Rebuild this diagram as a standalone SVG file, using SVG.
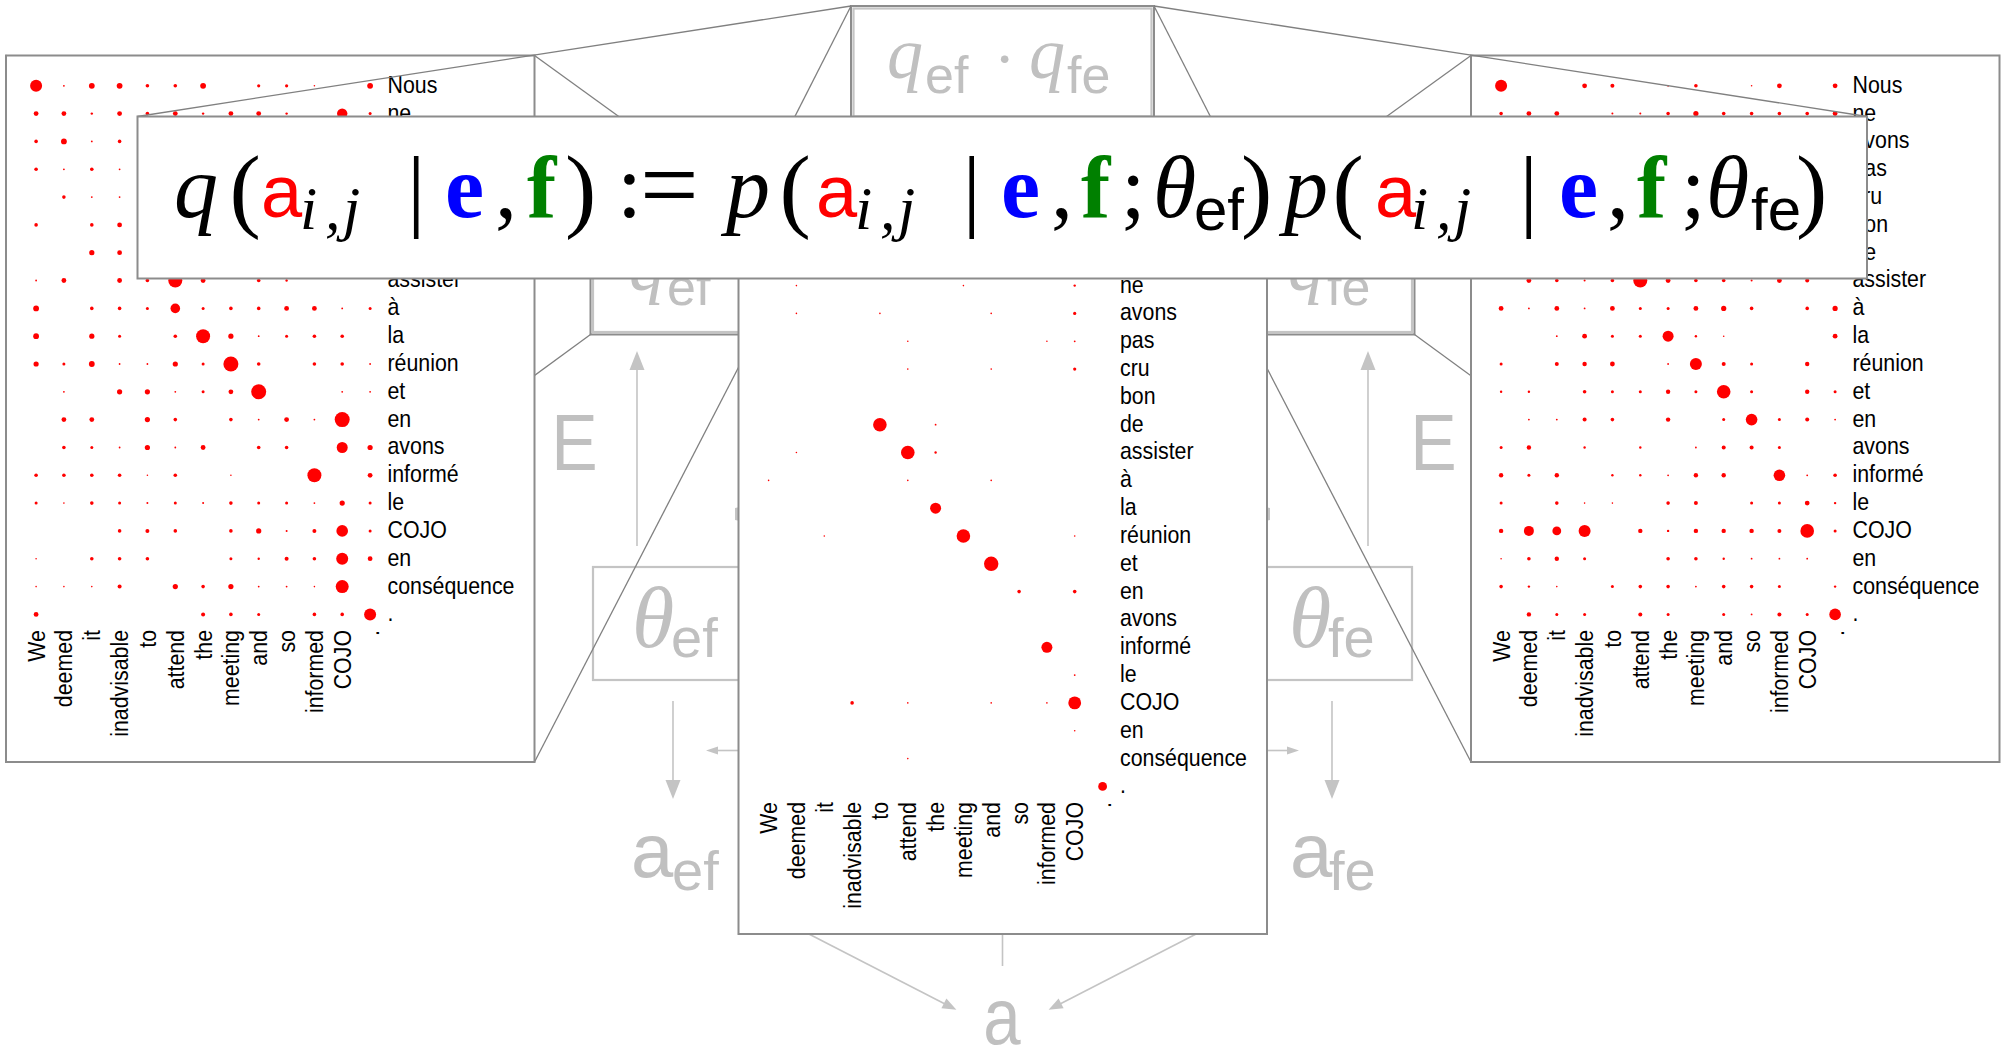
<svg xmlns="http://www.w3.org/2000/svg" xmlns:xlink="http://www.w3.org/1999/xlink" width="2001" height="1047" viewBox="0 0 2001 1047">
<defs>
<style>
.bg{fill:#fff}
.d circle{fill:#f00}
.lbl{font-family:"Liberation Sans",Arial,sans-serif;font-size:24px;fill:#000}
.pn{fill:#fff;stroke:#8c8c8c;stroke-width:2}
.gbox{fill:none;stroke:#c4c4c4;stroke-width:2.2}
.frame{fill:none;stroke:#8c8c8c;stroke-width:2}
.zl{fill:none;stroke:#808080;stroke-width:1.3}
.gl{fill:none;stroke:#c4c4c4;stroke-width:1.6}
.gh{fill:#c4c4c4}
.gt{fill:#c0c0c0}
.it{font-family:"Liberation Serif","DejaVu Serif",serif;font-style:italic}
.rm{font-family:"Liberation Serif","DejaVu Serif",serif;font-style:normal}
.bf{font-family:"Liberation Serif","DejaVu Serif",serif;font-weight:bold;font-style:normal}
.sf{font-family:"Liberation Sans",Arial,sans-serif;font-style:normal}
.fbox{fill:#fff;stroke:#8c8c8c;stroke-width:2}
</style>
<g id="labels" class="lbl">
<g transform="translate(387.5 0) scale(0.89 1)">
<text y="92.8">Nous</text><text y="120.6">ne</text><text y="148.4">avons</text><text y="176.3">pas</text><text y="204.1">cru</text><text y="231.9">bon</text><text y="259.7">de</text><text y="287.5">assister</text><text y="315.4">à</text><text y="343.2">la</text><text y="371">réunion</text><text y="398.8">et</text><text y="426.6">en</text><text y="454.5">avons</text><text y="482.3">informé</text><text y="510.1">le</text><text y="537.9">COJO</text><text y="565.7">en</text><text y="593.6">conséquence</text><text y="621.4">.</text>
</g>
<g text-anchor="end">
<text transform="translate(44.6 630) rotate(-90) scale(0.89 1)">We</text>
<text transform="translate(72.4 630) rotate(-90) scale(0.89 1)">deemed</text>
<text transform="translate(100.3 630) rotate(-90) scale(0.89 1)">it</text>
<text transform="translate(128.1 630) rotate(-90) scale(0.89 1)">inadvisable</text>
<text transform="translate(155.9 630) rotate(-90) scale(0.89 1)">to</text>
<text transform="translate(183.8 630) rotate(-90) scale(0.89 1)">attend</text>
<text transform="translate(211.6 630) rotate(-90) scale(0.89 1)">the</text>
<text transform="translate(239.4 630) rotate(-90) scale(0.89 1)">meeting</text>
<text transform="translate(267.2 630) rotate(-90) scale(0.89 1)">and</text>
<text transform="translate(295.1 630) rotate(-90) scale(0.89 1)">so</text>
<text transform="translate(322.9 630) rotate(-90) scale(0.89 1)">informed</text>
<text transform="translate(350.7 630) rotate(-90) scale(0.89 1)">COJO</text>
<text transform="translate(378.6 630) rotate(-90) scale(0.89 1)">.</text>
</g>
</g>
</defs>
<rect class="bg" x="0" y="0" width="2001" height="1047"/>

<g id="graph">
<g id="node-qq">
<rect class="gbox" x="853.5" y="8.5" width="298" height="108"/>
<text class="gt"><tspan class="it" x="887" y="78" font-size="72">q</tspan><tspan class="sf" x="925" y="93" font-size="52">ef</tspan><tspan class="rm" x="994" y="80" font-size="64">·</tspan><tspan class="it" x="1029" y="78" font-size="72">q</tspan><tspan class="sf" x="1067" y="93" font-size="52">fe</tspan></text>
</g>
<g id="node-qef">
<rect class="gbox" x="593" y="218" width="160" height="114"/>
<text class="gt"><tspan class="it" x="629" y="290" font-size="72">q</tspan><tspan class="sf" x="667" y="305" font-size="52">ef</tspan></text>
</g>
<g id="node-qfe">
<rect class="gbox" x="1252" y="218" width="160" height="114"/>
<text class="gt"><tspan class="it" x="1288" y="290" font-size="72">q</tspan><tspan class="sf" x="1327" y="305" font-size="52">fe</tspan></text>
</g>
<g id="node-thetaef">
<rect class="gbox" x="593" y="567" width="160" height="113"/>
<text class="gt"><tspan class="it" x="632" y="647" font-size="86">θ</tspan><tspan class="sf" x="671" y="657" font-size="56">ef</tspan></text>
</g>
<g id="node-thetafe">
<rect class="gbox" x="1252" y="567" width="160" height="113"/>
<text class="gt"><tspan class="it" x="1289" y="647" font-size="86">θ</tspan><tspan class="sf" x="1328" y="657" font-size="56">fe</tspan></text>
</g>
<g id="node-Eef"><text class="gt sf" transform="translate(574.5 470) scale(0.87 1)" font-size="80" text-anchor="middle">E</text></g>
<g id="node-Efe"><text class="gt sf" transform="translate(1433.5 470) scale(0.87 1)" font-size="80" text-anchor="middle">E</text></g>
<g id="node-aef">
<text class="gt sf"><tspan x="631" y="877" font-size="76">a</tspan><tspan x="672" y="890" font-size="56">ef</tspan></text>
</g>
<g id="node-afe">
<text class="gt sf"><tspan x="1290" y="877" font-size="76">a</tspan><tspan x="1329" y="890" font-size="56">fe</tspan></text>
</g>
<g id="node-a"><text class="gt sf" transform="translate(1002 1044) scale(0.84 1)" font-size="80" text-anchor="middle">a</text></g>
<g id="graph-edges">
<line class="gl" x1="637" y1="546" x2="637" y2="368"/><polygon class="gh" points="637,351 629.5,370 644.5,370"/>
<line class="gl" x1="1368" y1="546" x2="1368" y2="368"/><polygon class="gh" points="1368,351 1360.5,370 1375.5,370"/>
<line class="gl" x1="673" y1="701" x2="673" y2="782"/><polygon class="gh" points="673,799 665.5,780 680.5,780"/>
<line class="gl" x1="1332" y1="701" x2="1332" y2="782"/><polygon class="gh" points="1332,799 1324.5,780 1339.5,780"/>
<line class="gl" x1="745" y1="750.5" x2="715" y2="750.5"/><polygon class="gh" points="706,750.5 718,746.5 718,754.5"/>
<line class="gl" x1="1260" y1="750.5" x2="1290" y2="750.5"/><polygon class="gh" points="1299,750.5 1287,746.5 1287,754.5"/>
<polygon class="gh" points="735,508 745,506 745,522 735,520"/>
<polygon class="gh" points="1270,508 1260,506 1260,522 1270,520"/>
<line class="gl" x1="770" y1="914" x2="945" y2="1004"/><polygon class="gh" points="956.4,1009.8 946.4,998.5 941.4,1008.3"/>
<line class="gl" x1="1235" y1="914" x2="1060" y2="1004"/><polygon class="gh" points="1048.6,1009.8 1058.6,998.5 1063.6,1008.3"/>
<line class="gl" x1="1002.5" y1="900" x2="1002.5" y2="966"/>
</g>
</g>

<g id="zoom-frames">
<rect class="frame" x="851" y="6" width="303" height="113"/>
<rect class="frame" x="590.5" y="215.5" width="165" height="119"/>
<rect class="frame" x="1249.5" y="215.5" width="165" height="119"/>
</g>

<g id="connectors">
<line class="zl" x1="755.5" y1="215.5" x2="534.5" y2="55.5"/>
<line class="zl" x1="590.5" y1="215.5" x2="6" y2="55.5"/>
<line class="zl" x1="590.5" y1="334.5" x2="6" y2="762"/>
<line class="zl" x1="755.5" y1="334.5" x2="534.5" y2="762"/>
<line class="zl" x1="1249.5" y1="215.5" x2="1471" y2="55.5"/>
<line class="zl" x1="1414.5" y1="215.5" x2="1999.5" y2="55.5"/>
<line class="zl" x1="1414.5" y1="334.5" x2="1999.5" y2="762"/>
<line class="zl" x1="1249.5" y1="334.5" x2="1471" y2="762"/>
<line class="zl" x1="851" y1="6" x2="738.5" y2="227.5"/>
<line class="zl" x1="1154" y1="6" x2="1267" y2="227.5"/>
<line class="zl" x1="851" y1="119" x2="738.5" y2="934"/>
<line class="zl" x1="1154" y1="119" x2="1267" y2="934"/>
</g>

<g id="panel-left">
<rect class="pn" x="6" y="55.5" width="528.5" height="706.5"/>
<g class="d">
<circle cx="36.1" cy="85.8" r="6"/><circle cx="63.9" cy="85.8" r="0.9"/><circle cx="91.8" cy="85.8" r="2.9"/><circle cx="119.6" cy="85.8" r="2.9"/><circle cx="147.4" cy="85.8" r="1.8"/><circle cx="175.3" cy="85.8" r="1.8"/><circle cx="203.1" cy="85.8" r="2.9"/><circle cx="258.7" cy="85.8" r="1.6"/><circle cx="286.6" cy="85.8" r="1.6"/><circle cx="314.4" cy="85.8" r="0.8"/><circle cx="370.1" cy="85.8" r="2.9"/>
<circle cx="36.1" cy="113.6" r="2.4"/><circle cx="63.9" cy="113.6" r="2.4"/><circle cx="91.8" cy="113.6" r="1.2"/><circle cx="119.6" cy="113.6" r="2.4"/><circle cx="147.4" cy="113.6" r="1.8"/><circle cx="175.3" cy="113.6" r="2.4"/><circle cx="203.1" cy="113.6" r="1.2"/><circle cx="230.9" cy="113.6" r="2.4"/><circle cx="258.7" cy="113.6" r="2.4"/><circle cx="286.6" cy="113.6" r="1.2"/><circle cx="342.2" cy="113.6" r="5.2"/><circle cx="370.1" cy="113.6" r="1.5"/>
<circle cx="36.1" cy="141.4" r="1.8"/><circle cx="63.9" cy="141.4" r="2.9"/><circle cx="91.8" cy="141.4" r="0.9"/><circle cx="119.6" cy="141.4" r="1.8"/>
<circle cx="36.1" cy="169.3" r="1.8"/><circle cx="63.9" cy="169.3" r="0.9"/><circle cx="91.8" cy="169.3" r="1.8"/><circle cx="119.6" cy="169.3" r="0.9"/>
<circle cx="63.9" cy="197.1" r="1.8"/><circle cx="91.8" cy="197.1" r="0.9"/><circle cx="119.6" cy="197.1" r="0.9"/>
<circle cx="36.1" cy="224.9" r="1.8"/><circle cx="91.8" cy="224.9" r="1.8"/><circle cx="119.6" cy="224.9" r="2.4"/>
<circle cx="91.8" cy="252.7" r="2.6"/><circle cx="119.6" cy="252.7" r="2.4"/>
<circle cx="36.1" cy="280.5" r="0.9"/><circle cx="63.9" cy="280.5" r="2.4"/><circle cx="119.6" cy="280.5" r="2.4"/><circle cx="147.4" cy="280.5" r="1.8"/><circle cx="175.3" cy="280.5" r="7"/><circle cx="203.1" cy="280.5" r="2.4"/><circle cx="258.7" cy="280.5" r="1.8"/><circle cx="286.6" cy="280.5" r="1.2"/>
<circle cx="36.1" cy="308.4" r="2.9"/><circle cx="91.8" cy="308.4" r="1.8"/><circle cx="119.6" cy="308.4" r="1.8"/><circle cx="147.4" cy="308.4" r="1.5"/><circle cx="175.3" cy="308.4" r="4.8"/><circle cx="203.1" cy="308.4" r="1.5"/><circle cx="230.9" cy="308.4" r="1.8"/><circle cx="258.7" cy="308.4" r="1.8"/><circle cx="286.6" cy="308.4" r="2.4"/><circle cx="314.4" cy="308.4" r="2.4"/><circle cx="342.2" cy="308.4" r="0.9"/><circle cx="370.1" cy="308.4" r="1.5"/>
<circle cx="36.1" cy="336.2" r="2.9"/><circle cx="91.8" cy="336.2" r="2.6"/><circle cx="119.6" cy="336.2" r="1.5"/><circle cx="175.3" cy="336.2" r="1.8"/><circle cx="203.1" cy="336.2" r="7"/><circle cx="230.9" cy="336.2" r="2.6"/><circle cx="258.7" cy="336.2" r="0.9"/><circle cx="286.6" cy="336.2" r="1.5"/><circle cx="314.4" cy="336.2" r="1.8"/><circle cx="342.2" cy="336.2" r="1.8"/>
<circle cx="36.1" cy="364" r="2.6"/><circle cx="63.9" cy="364" r="1.5"/><circle cx="91.8" cy="364" r="2.9"/><circle cx="119.6" cy="364" r="0.9"/><circle cx="147.4" cy="364" r="0.9"/><circle cx="175.3" cy="364" r="2.6"/><circle cx="203.1" cy="364" r="1.5"/><circle cx="230.9" cy="364" r="7.5"/><circle cx="258.7" cy="364" r="1.8"/><circle cx="314.4" cy="364" r="1.8"/><circle cx="342.2" cy="364" r="1.8"/><circle cx="370.1" cy="364" r="0.9"/>
<circle cx="63.9" cy="391.8" r="0.9"/><circle cx="119.6" cy="391.8" r="2.6"/><circle cx="147.4" cy="391.8" r="2.6"/><circle cx="175.3" cy="391.8" r="0.9"/><circle cx="203.1" cy="391.8" r="1.5"/><circle cx="230.9" cy="391.8" r="2.4"/><circle cx="258.7" cy="391.8" r="7.5"/><circle cx="342.2" cy="391.8" r="0.9"/><circle cx="370.1" cy="391.8" r="0.9"/>
<circle cx="63.9" cy="419.6" r="2.4"/><circle cx="91.8" cy="419.6" r="2.4"/><circle cx="147.4" cy="419.6" r="2.6"/><circle cx="175.3" cy="419.6" r="1.8"/><circle cx="230.9" cy="419.6" r="1.8"/><circle cx="258.7" cy="419.6" r="0.9"/><circle cx="286.6" cy="419.6" r="2.4"/><circle cx="314.4" cy="419.6" r="0.9"/><circle cx="342.2" cy="419.6" r="7.5"/>
<circle cx="63.9" cy="447.5" r="1.8"/><circle cx="91.8" cy="447.5" r="1.5"/><circle cx="119.6" cy="447.5" r="0.9"/><circle cx="147.4" cy="447.5" r="2.6"/><circle cx="175.3" cy="447.5" r="0.9"/><circle cx="203.1" cy="447.5" r="2.4"/><circle cx="258.7" cy="447.5" r="1.8"/><circle cx="286.6" cy="447.5" r="1.8"/><circle cx="342.2" cy="447.5" r="5.5"/><circle cx="370.1" cy="447.5" r="2.6"/>
<circle cx="36.1" cy="475.3" r="1.8"/><circle cx="63.9" cy="475.3" r="1.8"/><circle cx="91.8" cy="475.3" r="1.8"/><circle cx="119.6" cy="475.3" r="1.8"/><circle cx="147.4" cy="475.3" r="0.8"/><circle cx="175.3" cy="475.3" r="1.8"/><circle cx="230.9" cy="475.3" r="0.8"/><circle cx="314.4" cy="475.3" r="7"/><circle cx="370.1" cy="475.3" r="2.4"/>
<circle cx="36.1" cy="503.1" r="1.5"/><circle cx="63.9" cy="503.1" r="0.8"/><circle cx="91.8" cy="503.1" r="1.8"/><circle cx="119.6" cy="503.1" r="1.5"/><circle cx="147.4" cy="503.1" r="1"/><circle cx="175.3" cy="503.1" r="1.5"/><circle cx="203.1" cy="503.1" r="1"/><circle cx="230.9" cy="503.1" r="1.8"/><circle cx="258.7" cy="503.1" r="1.5"/><circle cx="286.6" cy="503.1" r="1.5"/><circle cx="314.4" cy="503.1" r="0.9"/><circle cx="342.2" cy="503.1" r="2.6"/><circle cx="370.1" cy="503.1" r="1.5"/>
<circle cx="119.6" cy="530.9" r="1.8"/><circle cx="147.4" cy="530.9" r="2"/><circle cx="175.3" cy="530.9" r="1.8"/><circle cx="230.9" cy="530.9" r="1.8"/><circle cx="258.7" cy="530.9" r="2.6"/><circle cx="286.6" cy="530.9" r="1"/><circle cx="314.4" cy="530.9" r="2"/><circle cx="342.2" cy="530.9" r="5.8"/><circle cx="370.1" cy="530.9" r="1.5"/>
<circle cx="36.1" cy="558.7" r="0.8"/><circle cx="91.8" cy="558.7" r="1.8"/><circle cx="119.6" cy="558.7" r="1.8"/><circle cx="147.4" cy="558.7" r="1.8"/><circle cx="230.9" cy="558.7" r="1.5"/><circle cx="258.7" cy="558.7" r="1.2"/><circle cx="286.6" cy="558.7" r="2"/><circle cx="314.4" cy="558.7" r="1.8"/><circle cx="342.2" cy="558.7" r="6"/><circle cx="370.1" cy="558.7" r="2.4"/>
<circle cx="36.1" cy="586.6" r="0.8"/><circle cx="63.9" cy="586.6" r="0.8"/><circle cx="91.8" cy="586.6" r="0.8"/><circle cx="119.6" cy="586.6" r="2"/><circle cx="175.3" cy="586.6" r="2.6"/><circle cx="203.1" cy="586.6" r="1.8"/><circle cx="230.9" cy="586.6" r="2.6"/><circle cx="258.7" cy="586.6" r="0.9"/><circle cx="286.6" cy="586.6" r="0.9"/><circle cx="314.4" cy="586.6" r="0.8"/><circle cx="342.2" cy="586.6" r="6.5"/>
<circle cx="36.1" cy="614.4" r="2.4"/><circle cx="203.1" cy="614.4" r="2"/><circle cx="230.9" cy="614.4" r="1.8"/><circle cx="258.7" cy="614.4" r="1.5"/><circle cx="314.4" cy="614.4" r="1.8"/><circle cx="342.2" cy="614.4" r="1.8"/><circle cx="370.1" cy="614.4" r="6"/>
</g>
<use xlink:href="#labels" href="#labels"/>
</g>

<g id="panel-right" transform="translate(1465 0)">
<rect class="pn" x="6" y="55.5" width="528.5" height="706.5"/>
<g class="d">
<circle cx="36.1" cy="85.8" r="6"/><circle cx="119.6" cy="85.8" r="2.4"/><circle cx="147.4" cy="85.8" r="2"/><circle cx="203.1" cy="85.8" r="0.9"/><circle cx="230.9" cy="85.8" r="1.8"/><circle cx="286.6" cy="85.8" r="0.8"/><circle cx="314.4" cy="85.8" r="2.4"/><circle cx="370.1" cy="85.8" r="2.4"/>
<circle cx="36.1" cy="113.6" r="1.8"/><circle cx="63.9" cy="113.6" r="2.4"/><circle cx="91.8" cy="113.6" r="2.4"/><circle cx="147.4" cy="113.6" r="1"/><circle cx="175.3" cy="113.6" r="1"/><circle cx="203.1" cy="113.6" r="1.8"/><circle cx="230.9" cy="113.6" r="2.6"/><circle cx="258.7" cy="113.6" r="1.8"/><circle cx="286.6" cy="113.6" r="1.8"/><circle cx="314.4" cy="113.6" r="1.8"/><circle cx="342.2" cy="113.6" r="1.8"/><circle cx="370.1" cy="113.6" r="2.4"/>
<circle cx="63.9" cy="280.5" r="2.4"/><circle cx="91.8" cy="280.5" r="1.8"/><circle cx="119.6" cy="280.5" r="1"/><circle cx="147.4" cy="280.5" r="1.8"/><circle cx="175.3" cy="280.5" r="7"/><circle cx="203.1" cy="280.5" r="2.4"/><circle cx="230.9" cy="280.5" r="1.8"/><circle cx="258.7" cy="280.5" r="1.8"/><circle cx="286.6" cy="280.5" r="1"/><circle cx="314.4" cy="280.5" r="2.4"/><circle cx="342.2" cy="280.5" r="2"/>
<circle cx="36.1" cy="308.4" r="2.4"/><circle cx="63.9" cy="308.4" r="0.9"/><circle cx="91.8" cy="308.4" r="2.4"/><circle cx="119.6" cy="308.4" r="0.9"/><circle cx="147.4" cy="308.4" r="2.4"/><circle cx="175.3" cy="308.4" r="1.5"/><circle cx="203.1" cy="308.4" r="1.5"/><circle cx="230.9" cy="308.4" r="2.4"/><circle cx="258.7" cy="308.4" r="2.6"/><circle cx="286.6" cy="308.4" r="1.8"/><circle cx="342.2" cy="308.4" r="1.8"/><circle cx="370.1" cy="308.4" r="2.6"/>
<circle cx="91.8" cy="336.2" r="0.9"/><circle cx="119.6" cy="336.2" r="2.4"/><circle cx="147.4" cy="336.2" r="1.5"/><circle cx="175.3" cy="336.2" r="1.5"/><circle cx="203.1" cy="336.2" r="5.5"/><circle cx="230.9" cy="336.2" r="1.2"/><circle cx="258.7" cy="336.2" r="0.8"/><circle cx="370.1" cy="336.2" r="2.4"/>
<circle cx="36.1" cy="364" r="1.5"/><circle cx="91.8" cy="364" r="2"/><circle cx="119.6" cy="364" r="2.2"/><circle cx="147.4" cy="364" r="2.4"/><circle cx="203.1" cy="364" r="0.9"/><circle cx="230.9" cy="364" r="6"/><circle cx="258.7" cy="364" r="2"/><circle cx="286.6" cy="364" r="1.5"/><circle cx="342.2" cy="364" r="2.2"/>
<circle cx="36.1" cy="391.8" r="1.2"/><circle cx="63.9" cy="391.8" r="1.2"/><circle cx="119.6" cy="391.8" r="1.8"/><circle cx="147.4" cy="391.8" r="1.5"/><circle cx="175.3" cy="391.8" r="1.5"/><circle cx="203.1" cy="391.8" r="2.2"/><circle cx="230.9" cy="391.8" r="1.5"/><circle cx="258.7" cy="391.8" r="6.8"/><circle cx="286.6" cy="391.8" r="1.5"/><circle cx="342.2" cy="391.8" r="2.2"/><circle cx="370.1" cy="391.8" r="1.5"/>
<circle cx="63.9" cy="419.6" r="0.9"/><circle cx="91.8" cy="419.6" r="0.9"/><circle cx="119.6" cy="419.6" r="2"/><circle cx="147.4" cy="419.6" r="1.8"/><circle cx="203.1" cy="419.6" r="2.2"/><circle cx="258.7" cy="419.6" r="1.5"/><circle cx="286.6" cy="419.6" r="5.8"/><circle cx="314.4" cy="419.6" r="1.5"/><circle cx="342.2" cy="419.6" r="2"/><circle cx="370.1" cy="419.6" r="0.9"/>
<circle cx="36.1" cy="447.5" r="1.5"/><circle cx="63.9" cy="447.5" r="2.2"/><circle cx="119.6" cy="447.5" r="1.2"/><circle cx="175.3" cy="447.5" r="1.2"/><circle cx="230.9" cy="447.5" r="0.9"/><circle cx="258.7" cy="447.5" r="2"/><circle cx="286.6" cy="447.5" r="2"/><circle cx="314.4" cy="447.5" r="1.5"/>
<circle cx="36.1" cy="475.3" r="2.2"/><circle cx="63.9" cy="475.3" r="1.5"/><circle cx="91.8" cy="475.3" r="2.2"/><circle cx="147.4" cy="475.3" r="1.2"/><circle cx="175.3" cy="475.3" r="1.2"/><circle cx="203.1" cy="475.3" r="0.9"/><circle cx="230.9" cy="475.3" r="2.2"/><circle cx="258.7" cy="475.3" r="2.2"/><circle cx="314.4" cy="475.3" r="5.8"/><circle cx="342.2" cy="475.3" r="0.9"/><circle cx="370.1" cy="475.3" r="1.8"/>
<circle cx="36.1" cy="503.1" r="1.5"/><circle cx="91.8" cy="503.1" r="1.8"/><circle cx="119.6" cy="503.1" r="0.8"/><circle cx="147.4" cy="503.1" r="0.8"/><circle cx="203.1" cy="503.1" r="1.8"/><circle cx="230.9" cy="503.1" r="2"/><circle cx="286.6" cy="503.1" r="1.5"/><circle cx="314.4" cy="503.1" r="1.5"/><circle cx="342.2" cy="503.1" r="2.4"/><circle cx="370.1" cy="503.1" r="1.2"/>
<circle cx="36.1" cy="530.9" r="2.2"/><circle cx="63.9" cy="530.9" r="5"/><circle cx="91.8" cy="530.9" r="4.4"/><circle cx="119.6" cy="530.9" r="6"/><circle cx="175.3" cy="530.9" r="2.2"/><circle cx="203.1" cy="530.9" r="1.2"/><circle cx="230.9" cy="530.9" r="2.2"/><circle cx="258.7" cy="530.9" r="2.2"/><circle cx="286.6" cy="530.9" r="2.2"/><circle cx="314.4" cy="530.9" r="2"/><circle cx="342.2" cy="530.9" r="6.8"/><circle cx="370.1" cy="530.9" r="1.5"/>
<circle cx="36.1" cy="558.7" r="0.8"/><circle cx="63.9" cy="558.7" r="1.8"/><circle cx="91.8" cy="558.7" r="2.2"/><circle cx="119.6" cy="558.7" r="1.5"/><circle cx="203.1" cy="558.7" r="1.8"/><circle cx="230.9" cy="558.7" r="1.8"/><circle cx="258.7" cy="558.7" r="1.2"/><circle cx="286.6" cy="558.7" r="0.9"/><circle cx="314.4" cy="558.7" r="0.9"/><circle cx="342.2" cy="558.7" r="0.9"/>
<circle cx="36.1" cy="586.6" r="1.8"/><circle cx="63.9" cy="586.6" r="1.2"/><circle cx="91.8" cy="586.6" r="0.8"/><circle cx="147.4" cy="586.6" r="1.5"/><circle cx="175.3" cy="586.6" r="1.8"/><circle cx="203.1" cy="586.6" r="1.8"/><circle cx="230.9" cy="586.6" r="0.9"/><circle cx="258.7" cy="586.6" r="1.8"/><circle cx="286.6" cy="586.6" r="1.8"/><circle cx="314.4" cy="586.6" r="1.5"/><circle cx="370.1" cy="586.6" r="1.2"/>
<circle cx="63.9" cy="614.4" r="2.2"/><circle cx="91.8" cy="614.4" r="1.5"/><circle cx="119.6" cy="614.4" r="1.5"/><circle cx="175.3" cy="614.4" r="2"/><circle cx="203.1" cy="614.4" r="1.5"/><circle cx="258.7" cy="614.4" r="1.5"/><circle cx="286.6" cy="614.4" r="0.9"/><circle cx="314.4" cy="614.4" r="2"/><circle cx="342.2" cy="614.4" r="1.5"/><circle cx="370.1" cy="614.4" r="5.8"/>
</g>
<use xlink:href="#labels" href="#labels"/>
</g>

<g id="panel-center" transform="translate(732.5 172)">
<rect class="pn" x="6" y="55.5" width="528.5" height="706.5"/>
<g class="d">
<circle cx="63.9" cy="113.6" r="0.8"/><circle cx="230.9" cy="113.6" r="0.8"/><circle cx="342.2" cy="113.6" r="1.2"/>
<circle cx="63.9" cy="141.4" r="0.8"/><circle cx="147.4" cy="141.4" r="0.8"/><circle cx="258.7" cy="141.4" r="0.8"/><circle cx="342.2" cy="141.4" r="1.6"/>
<circle cx="175.3" cy="169.3" r="0.8"/><circle cx="314.4" cy="169.3" r="0.8"/><circle cx="342.2" cy="169.3" r="0.9"/>
<circle cx="175.3" cy="197.1" r="0.8"/><circle cx="258.7" cy="197.1" r="0.8"/><circle cx="342.2" cy="197.1" r="1.6"/>
<circle cx="147.4" cy="252.7" r="6.8"/><circle cx="203.1" cy="252.7" r="0.9"/>
<circle cx="63.9" cy="280.5" r="0.8"/><circle cx="175.3" cy="280.5" r="6.8"/><circle cx="203.1" cy="280.5" r="1.2"/>
<circle cx="36.1" cy="308.4" r="0.8"/><circle cx="175.3" cy="308.4" r="0.8"/><circle cx="258.7" cy="308.4" r="0.8"/>
<circle cx="203.1" cy="336.2" r="5.5"/>
<circle cx="91.8" cy="364" r="0.8"/><circle cx="230.9" cy="364" r="6.8"/><circle cx="342.2" cy="364" r="0.8"/>
<circle cx="258.7" cy="391.8" r="7.2"/>
<circle cx="286.6" cy="419.6" r="1.8"/><circle cx="342.2" cy="419.6" r="1.8"/>
<circle cx="314.4" cy="475.3" r="5.5"/>
<circle cx="342.2" cy="503.1" r="0.9"/>
<circle cx="119.6" cy="530.9" r="1.8"/><circle cx="175.3" cy="530.9" r="0.8"/><circle cx="258.7" cy="530.9" r="0.8"/><circle cx="314.4" cy="530.9" r="0.8"/><circle cx="342.2" cy="530.9" r="6.4"/>
<circle cx="342.2" cy="558.7" r="0.8"/>
<circle cx="175.3" cy="586.6" r="0.8"/>
<circle cx="370.1" cy="614.4" r="4.4"/>
</g>
<use xlink:href="#labels" href="#labels"/>
</g>

<g id="connectors-formula">
<line class="zl" x1="851" y1="6" x2="137.5" y2="116.5"/>
<line class="zl" x1="1154" y1="6" x2="1867" y2="116.5"/>
</g>

<g id="formula">
<rect class="fbox" x="137.5" y="116.5" width="1729.5" height="162"/>
<text fill="#000"><tspan class="it" x="174" y="217" font-size="88">q</tspan><tspan class="rm" x="229.5" y="220" font-size="94">(</tspan><tspan class="sf" x="261" y="217" font-size="74" fill="#f00">a</tspan><tspan class="it" x="300" y="229" font-size="62">i</tspan><tspan class="it" x="325" y="229" font-size="62">,</tspan><tspan class="it" x="343" y="229" font-size="62">j</tspan><tspan class="rm" x="407" y="220" font-size="92">|</tspan><tspan class="bf" x="445" y="217" font-size="88" fill="#00f">e</tspan><tspan class="rm" x="495" y="217" font-size="88">,</tspan><tspan class="bf" x="527" y="217" font-size="88" fill="#008000">f</tspan><tspan class="rm" x="565" y="220" font-size="94">)</tspan><tspan class="rm" x="617" y="217" font-size="90">:</tspan><tspan class="rm" x="640" y="220" font-size="104">=</tspan><tspan class="it" x="726" y="217" font-size="88">p</tspan><tspan class="rm" x="779.5" y="220" font-size="94">(</tspan><tspan class="sf" x="816" y="217" font-size="74" fill="#f00">a</tspan><tspan class="it" x="855" y="229" font-size="62">i</tspan><tspan class="it" x="880" y="229" font-size="62">,</tspan><tspan class="it" x="898" y="229" font-size="62">j</tspan><tspan class="rm" x="962.5" y="220" font-size="92">|</tspan><tspan class="bf" x="1001" y="217" font-size="88" fill="#00f">e</tspan><tspan class="rm" x="1051" y="217" font-size="88">,</tspan><tspan class="bf" x="1081" y="217" font-size="88" fill="#008000">f</tspan><tspan class="rm" x="1121" y="217" font-size="88">;</tspan><tspan class="it" x="1153" y="217" font-size="88">θ</tspan><tspan class="sf" x="1194" y="230" font-size="60">ef</tspan><tspan class="rm" x="1241" y="220" font-size="94">)</tspan><tspan class="it" x="1284" y="217" font-size="88">p</tspan><tspan class="rm" x="1332.5" y="220" font-size="94">(</tspan><tspan class="sf" x="1375" y="217" font-size="74" fill="#f00">a</tspan><tspan class="it" x="1411" y="229" font-size="62">i</tspan><tspan class="it" x="1436" y="229" font-size="62">,</tspan><tspan class="it" x="1454" y="229" font-size="62">j</tspan><tspan class="rm" x="1519.5" y="220" font-size="92">|</tspan><tspan class="bf" x="1559" y="217" font-size="88" fill="#00f">e</tspan><tspan class="rm" x="1607" y="217" font-size="88">,</tspan><tspan class="bf" x="1637" y="217" font-size="88" fill="#008000">f</tspan><tspan class="rm" x="1681" y="217" font-size="88">;</tspan><tspan class="it" x="1706" y="217" font-size="88">θ</tspan><tspan class="sf" x="1751" y="230" font-size="60">fe</tspan><tspan class="rm" x="1796" y="220" font-size="94">)</tspan></text>
</g>
</svg>
